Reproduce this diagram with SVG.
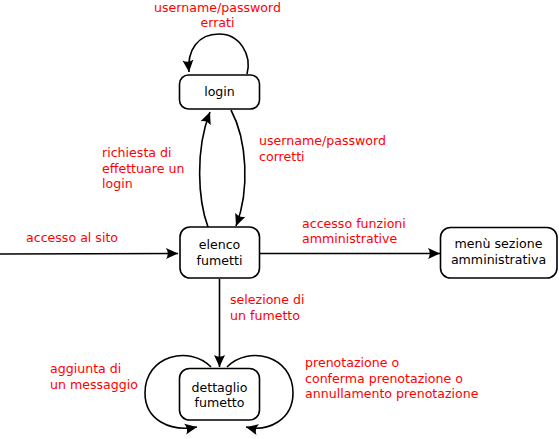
<svg xmlns="http://www.w3.org/2000/svg" width="559" height="439" viewBox="0 0 559 439">
<defs>
<marker id="arr" markerUnits="userSpaceOnUse" viewBox="-13 -7 14 14" markerWidth="14" markerHeight="14" refX="0" refY="0" orient="auto" overflow="visible">
<path d="M0,0 L-12,-5.5 Q-8.5,0 -12,5.5 Z" fill="#000"/>
</marker>
<style>
.node rect{fill:#fff;stroke:#000;stroke-width:1.6}
.nt{font-family:"DejaVu Sans",sans-serif;font-size:12.6px;fill:#000;text-anchor:middle}
.lbl{font-family:"DejaVu Sans",sans-serif;font-size:12.6px;fill:#ff0000}
.edge{fill:none;stroke:#000;stroke-width:1.6;marker-end:url(#arr)}
</style>
</defs>
<rect width="559" height="439" fill="#fff"/>
<g id="connectors">
<path class="edge" d="M247,74 C252,55 240,34 219,34 C198,34 187,50 189,72"/>
<path class="edge" d="M208,227 C198,200 195,150 210,112"/>
<path class="edge" d="M231,110 C247,140 250,190 236,226"/>
<path class="edge" d="M0,254 L178,253.5"/>
<path class="edge" d="M260,253.5 L440,253.5"/>
<path class="edge" d="M219.5,279 L219.5,367"/>
<path class="edge" d="M211,367 C190,345 145,355 145,393 C145,420 170,432 197,427"/>
<path class="edge" d="M227,367 C248,345 293,355 293,393 C293,420 268,432 246,427"/>
</g>
<g id="login" class="node">
<rect x="179.5" y="75" width="80" height="34" rx="9"/>
<text class="nt" x="219.5" y="96">login</text>
</g>
<g id="elenco" class="node">
<rect x="180" y="227" width="79.5" height="51" rx="10"/>
<text class="nt" x="219.5" y="249.3">elenco</text>
<text class="nt" x="219.5" y="265">fumetti</text>
</g>
<g id="menu" class="node">
<rect x="440.5" y="227.5" width="116.5" height="50.5" rx="10"/>
<text class="nt" x="498.5" y="248.3">menù sezione</text>
<text class="nt" x="498.5" y="264.3">amministrativa</text>
</g>
<g id="dettaglio" class="node">
<rect x="179.5" y="368.5" width="80" height="51.5" rx="10"/>
<text class="nt" x="219.5" y="391.7">dettaglio</text>
<text class="nt" x="219.5" y="406.7">fumetto</text>
</g>
<g id="labels">
<text class="lbl" x="217.5" y="11.7" text-anchor="middle">username/password</text>
<text class="lbl" x="217.5" y="26.7" text-anchor="middle">errati</text>
<text class="lbl" x="102" y="156.7">richiesta di</text>
<text class="lbl" x="102" y="172.7">effettuare un</text>
<text class="lbl" x="102" y="188.3">login</text>
<text class="lbl" x="259" y="145">username/password</text>
<text class="lbl" x="259" y="160.7">corretti</text>
<text class="lbl" x="26" y="241.7">accesso al sito</text>
<text class="lbl" x="302" y="228">accesso funzioni</text>
<text class="lbl" x="302" y="243.3">amministrative</text>
<text class="lbl" x="230" y="304">selezione di</text>
<text class="lbl" x="230" y="319.5">un fumetto</text>
<text class="lbl" x="50" y="373.3">aggiunta di</text>
<text class="lbl" x="50" y="389.3">un messaggio</text>
<text class="lbl" x="305" y="366.7">prenotazione o</text>
<text class="lbl" x="305" y="382.7">conferma prenotazione o</text>
<text class="lbl" x="305" y="398.3">annullamento prenotazione</text>
</g>
</svg>
